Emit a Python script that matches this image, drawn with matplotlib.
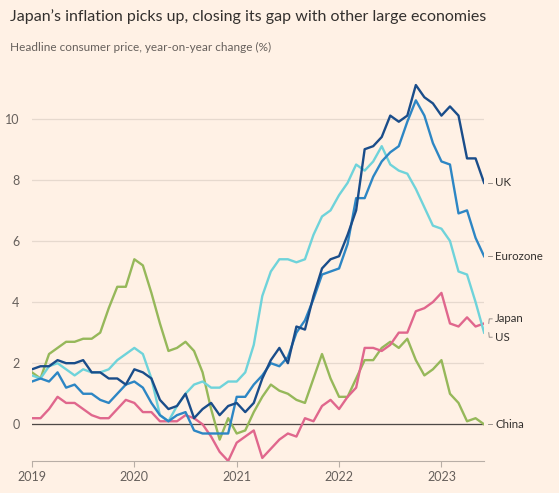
import matplotlib; matplotlib.use("Agg")
import matplotlib.pyplot as plt

# monthly, Jan 2019 - Jun 2023
years = ["2019", "2020", "2021", "2022", "2023"]
uk = [1.8, 1.9, 1.9, 2.1, 2.0, 2.0, 2.1, 1.7, 1.7, 1.5, 1.5, 1.3,
      1.8, 1.7, 1.5, 0.8, 0.5, 0.6, 1.0, 0.2, 0.5, 0.7, 0.3, 0.6,
      0.7, 0.4, 0.7, 1.5, 2.1, 2.5, 2.0, 3.2, 3.1, 4.2, 5.1, 5.4,
      5.5, 6.2, 7.0, 9.0, 9.1, 9.4, 10.1, 9.9, 10.1, 11.1, 10.7, 10.5,
      10.1, 10.4, 10.1, 8.7, 8.7, 7.9]
eurozone = [1.4, 1.5, 1.4, 1.7, 1.2, 1.3, 1.0, 1.0, 0.8, 0.7, 1.0, 1.3,
            1.4, 1.2, 0.7, 0.3, 0.1, 0.3, 0.4, -0.2, -0.3, -0.3, -0.3, -0.3,
            0.9, 0.9, 1.3, 1.6, 2.0, 1.9, 2.2, 3.0, 3.4, 4.1, 4.9, 5.0,
            5.1, 5.9, 7.4, 7.4, 8.1, 8.6, 8.9, 9.1, 9.9, 10.6, 10.1, 9.2,
            8.6, 8.5, 6.9, 7.0, 6.1, 5.5]
us = [1.6, 1.5, 1.9, 2.0, 1.8, 1.6, 1.8, 1.7, 1.7, 1.8, 2.1, 2.3,
      2.5, 2.3, 1.5, 0.3, 0.1, 0.6, 1.0, 1.3, 1.4, 1.2, 1.2, 1.4,
      1.4, 1.7, 2.6, 4.2, 5.0, 5.4, 5.4, 5.3, 5.4, 6.2, 6.8, 7.0,
      7.5, 7.9, 8.5, 8.3, 8.6, 9.1, 8.5, 8.3, 8.2, 7.7, 7.1, 6.5,
      6.4, 6.0, 5.0, 4.9, 4.0, 3.0]
japan = [0.2, 0.2, 0.5, 0.9, 0.7, 0.7, 0.5, 0.3, 0.2, 0.2, 0.5, 0.8,
         0.7, 0.4, 0.4, 0.1, 0.1, 0.1, 0.3, 0.2, 0.0, -0.4, -0.9, -1.2,
         -0.6, -0.4, -0.2, -1.1, -0.8, -0.5, -0.3, -0.4, 0.2, 0.1, 0.6, 0.8,
         0.5, 0.9, 1.2, 2.5, 2.5, 2.4, 2.6, 3.0, 3.0, 3.7, 3.8, 4.0,
         4.3, 3.3, 3.2, 3.5, 3.2, 3.3]
china = [1.7, 1.5, 2.3, 2.5, 2.7, 2.7, 2.8, 2.8, 3.0, 3.8, 4.5, 4.5,
         5.4, 5.2, 4.3, 3.3, 2.4, 2.5, 2.7, 2.4, 1.7, 0.5, -0.5, 0.2,
         -0.3, -0.2, 0.4, 0.9, 1.3, 1.1, 1.0, 0.8, 0.7, 1.5, 2.3, 1.5,
         0.9, 0.9, 1.5, 2.1, 2.1, 2.5, 2.7, 2.5, 2.8, 2.1, 1.6, 1.8,
         2.1, 1.0, 0.7, 0.1, 0.2, 0.0]

series = [("China", china, "#96b85a"), ("Japan", japan, "#e0678d"),
          ("US", us, "#6fd3da"), ("Eurozone", eurozone, "#2d86c4"),
          ("UK", uk, "#1a4d8a")]
label_y = {"UK": 7.9, "Eurozone": 5.5, "Japan": 3.45, "US": 2.85, "China": 0.0}

BG = "#fff1e5"
plt.rcParams["font.family"] = ["Lato", "DejaVu Sans"]

fig = plt.figure(figsize=(5.59, 4.93), dpi=100, facecolor=BG)
ax = fig.add_axes([0.0572, 0.0649, 0.8088, 0.775], facecolor=BG)

months = list(range(len(uk)))
for name, vals, col in series:
    ax.plot(months, vals, color=col, lw=1.7, solid_joinstyle="round", zorder=3)

ax.set_xlim(0, months[-1])
ax.set_ylim(-1.2, 11.3)
ax.set_yticks([0, 2, 4, 6, 8, 10])
ax.grid(axis="y", color="#e6d9ce", lw=0.9, zorder=0)
ax.axhline(0, color="#4d4845", lw=0.9, zorder=2)
ax.set_xticks([12 * i for i in range(len(years))])
ax.set_xticklabels(years)
for sp in ["top", "right", "left"]:
    ax.spines[sp].set_visible(False)
ax.spines["bottom"].set_color("#b8aea6")
ax.tick_params(axis="y", length=0, pad=9, labelsize=9, labelcolor="#66605c")
ax.tick_params(axis="x", length=4, color="#b8aea6", pad=3, labelsize=9,
               labelcolor="#66605c")

# end labels with short leaders
end = months[-1]
for name, vals, col in series:
    ly = label_y[name]
    v = vals[-1]
    if abs(ly - v) > 0.01:
        ax.plot([end + 0.55, end + 0.6, end + 0.95], [v, ly, ly], color="#8a837e",
                lw=0.6, clip_on=False)
    else:
        ax.plot([end + 0.5, end + 0.95], [ly, ly], color="#8a837e", lw=0.6,
                clip_on=False)
    ax.text(end + 1.3, ly, name, fontsize=8.3, color="#33302e", va="center",
            ha="left", clip_on=False)

fig.text(0.018, 0.967, "Japan\u2019s inflation picks up, closing its gap with other large economies",
         fontsize=11.5, color="#33302e", va="center", ha="left")
fig.text(0.018, 0.904, "Headline consumer price, year-on-year change (%)",
         fontsize=8.5, color="#66605c", va="center", ha="left")

fig.savefig("out.png", dpi=100, facecolor=BG)
